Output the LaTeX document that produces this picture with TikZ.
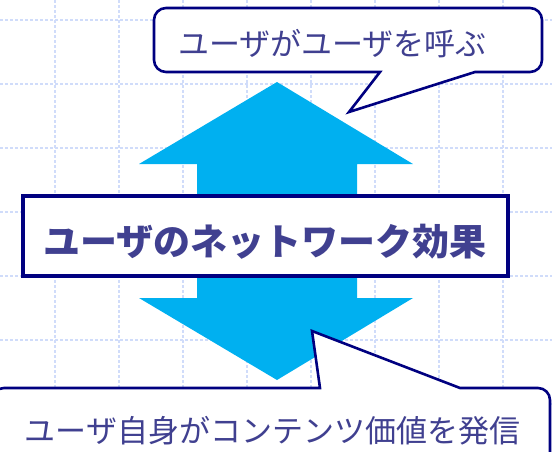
\documentclass[tikz,border=0pt]{standalone}
\usepackage{fontspec}
\newfontfamily\jp{Noto Sans CJK JP}
\definecolor{navy}{RGB}{0,0,128}
\definecolor{txt}{RGB}{64,64,144}
\definecolor{cyanarrow}{RGB}{0,176,240}
\definecolor{gridc}{RGB}{208,220,250}
\tikzset{
  gridline/.style={draw=gridc, line width=1.6pt, dash pattern=on 3pt off 2pt},
  calloutline/.style={draw=navy, fill=white, line width=2.6pt, line join=miter},
  bigbox/.style={draw=navy, fill=white, line width=3.5pt},
  jptext/.style={text=txt, inner sep=0pt, font=\jp},
}
\begin{document}
\begin{tikzpicture}[x=1pt,y=-1pt]
\useasboundingbox (0,0) rectangle (552,451);
\clip (0,0) rectangle (552,451);
% grid
\foreach \gx in {55,119,183,247,311,375,439,503}
  \draw[gridline] (\gx,0) -- (\gx,451);
\foreach \gy in {20,84,148,212,276,340,404}
  \draw[gridline] (0,\gy) -- (552,\gy);
% double arrow
\fill[cyanarrow] (277,82) -- (413,164) -- (357,164) -- (357,298) -- (413,298)
  -- (277,380) -- (139,298) -- (197,298) -- (197,164) -- (139,164) -- cycle;
% top callout
\filldraw[calloutline] (300,72) -- (380,72) -- (349,112) -- (475,72) -- (500,72)
  [rounded corners=12pt] -- (542,72) -- (542,8) -- (154,8) -- (154,72) -- (300,72);
\node[jptext, font=\jp\fontsize{31}{31}\selectfont, anchor=base] (top) at (332.5,55.3) {ユーザがユーザを呼ぶ};
% central box
\node[bigbox, minimum width=485pt, minimum height=80pt, inner sep=0pt] (box) at (265.5,236) {};
\node[jptext, font=\jp\bfseries\fontsize{37}{37}\selectfont, anchor=base] (main) at (265,255) {ユーザのネットワーク効果};
% bottom callout
\filldraw[calloutline] (100,388) -- (320,388) -- (312,331) -- (460,388) -- (500,388)
  [rounded corners=12pt] -- (550,388) -- (550,480) -- (-8,480) -- (-8,388) -- (100,388);
\node[jptext, font=\jp\fontsize{31}{31}\selectfont, anchor=base] (bottom) at (272.5,442.8) {ユーザ自身がコンテンツ価値を発信};
\end{tikzpicture}
\end{document}
